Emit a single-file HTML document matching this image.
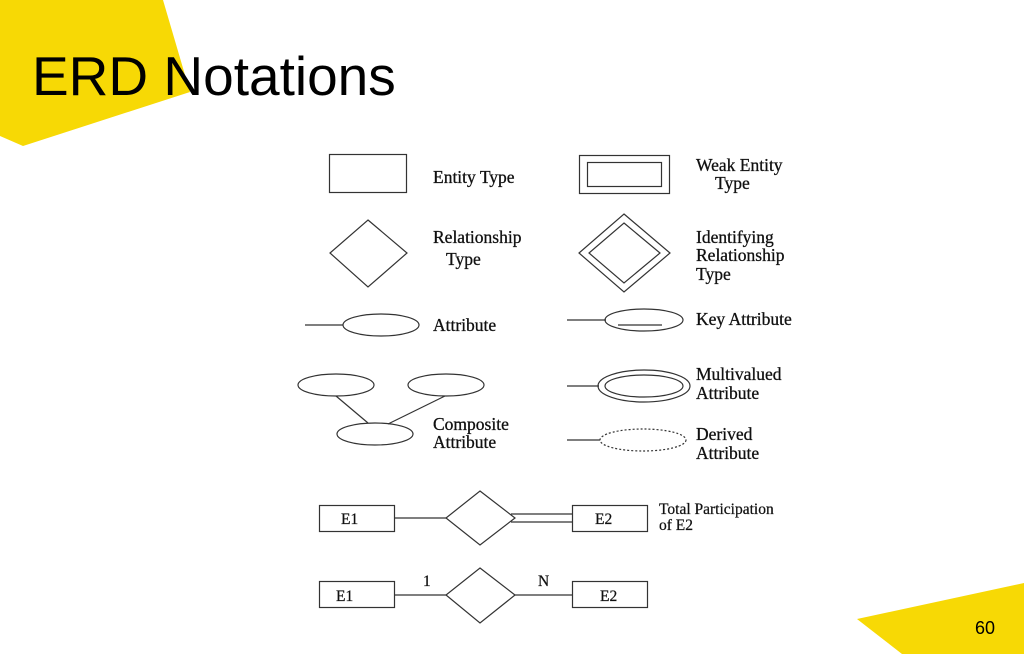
<!DOCTYPE html>
<html><head><style>
body{margin:0;background:#fff;}
svg{display:block}
.t{font-family:"Liberation Serif",serif;font-size:17.5px;fill:#111;stroke:#111;stroke-width:0.3}
.s{font-family:"Liberation Serif",serif;font-size:15.5px;fill:#111;stroke:#111;stroke-width:0.25}
</style></head><body>
<svg width="1024" height="654" viewBox="0 0 1024 654" xmlns="http://www.w3.org/2000/svg">
<polygon points="0,0 163,0 190,92 23,146 0,136" fill="#f7d905"/>
<polygon points="857,619 1024,583 1024,654 902,654" fill="#f7d905"/>
<text x="32" y="95" font-family="Liberation Sans,sans-serif" font-size="55" fill="#000">ERD Notations</text>
<text x="975" y="634" font-family="Liberation Sans,sans-serif" font-size="18" fill="#000">60</text>
<g fill="none" stroke="#333" stroke-width="1.2">
<rect x="329.5" y="154.5" width="77" height="38"/>
<rect x="579.5" y="155.5" width="90" height="38"/>
<rect x="587.5" y="162.5" width="74" height="24"/>
<polygon points="368,220 407,253 368,287 330,253"/>
<polygon points="624,214 670,253 624,292 579,253"/>
<polygon points="624,223 660,253 624,283 589,253"/>
<line x1="305" y1="325" x2="343" y2="325"/>
<ellipse cx="381" cy="325" rx="38" ry="11"/>
<line x1="567" y1="320" x2="606" y2="320"/>
<ellipse cx="644" cy="320" rx="39" ry="11"/>
<line x1="618" y1="325" x2="662" y2="325"/>
<ellipse cx="336" cy="385" rx="38" ry="11"/>
<ellipse cx="446" cy="385" rx="38" ry="11"/>
<ellipse cx="375" cy="434" rx="38" ry="11"/>
<line x1="336" y1="396" x2="368" y2="423"/>
<line x1="445" y1="396" x2="388" y2="424"/>
<line x1="567" y1="386" x2="599" y2="386"/>
<ellipse cx="644" cy="386" rx="46" ry="16"/>
<ellipse cx="644" cy="386" rx="39" ry="11"/>
<line x1="567" y1="440" x2="600" y2="440"/>
<ellipse cx="643" cy="440" rx="43" ry="11" stroke-dasharray="2,2"/>
<rect x="319.5" y="505.5" width="75" height="26"/>
<polygon points="480,491 515,518 480,545 446,518"/>
<rect x="572.5" y="505.5" width="75" height="26"/>
<line x1="394" y1="518" x2="446" y2="518"/>
<line x1="511" y1="514" x2="572" y2="514"/>
<line x1="511" y1="522" x2="572" y2="522"/>
<rect x="319.5" y="581.5" width="75" height="26"/>
<polygon points="480,568 515,595 480,623 446,595"/>
<rect x="572.5" y="581.5" width="75" height="26"/>
<line x1="394" y1="595" x2="446" y2="595"/>
<line x1="515" y1="595" x2="572" y2="595"/>
</g>
<text class="t" x="433" y="183">Entity Type</text>
<text class="t" x="696" y="171">Weak Entity</text>
<text class="t" x="715" y="189">Type</text>
<text class="t" x="433" y="243">Relationship</text>
<text class="t" x="446" y="265">Type</text>
<text class="t" x="696" y="243">Identifying</text>
<text class="t" x="696" y="261">Relationship</text>
<text class="t" x="696" y="280">Type</text>
<text class="t" x="433" y="331">Attribute</text>
<text class="t" x="696" y="325">Key Attribute</text>
<text class="t" x="696" y="380">Multivalued</text>
<text class="t" x="696" y="399">Attribute</text>
<text class="t" x="433" y="430">Composite</text>
<text class="t" x="433" y="448">Attribute</text>
<text class="t" x="696" y="440">Derived</text>
<text class="t" x="696" y="459">Attribute</text>
<text class="s" x="341" y="524">E1</text>
<text class="s" x="595" y="524">E2</text>
<text class="s" x="659" y="514">Total Participation</text>
<text class="s" x="659" y="530">of E2</text>
<text class="s" x="336" y="601">E1</text>
<text class="s" x="600" y="601">E2</text>
<text class="s" x="423" y="586">1</text>
<text class="s" x="538" y="586">N</text>
</svg>
</body></html>
